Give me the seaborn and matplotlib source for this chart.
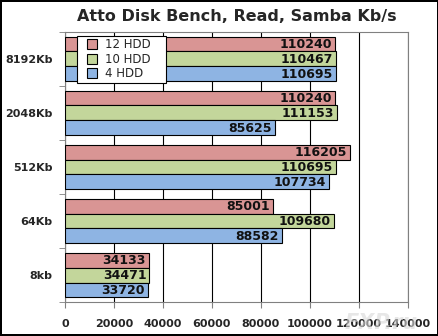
import seaborn as sns
import matplotlib.pyplot as plt
import pandas as pd
from matplotlib.ticker import FixedLocator
from matplotlib.lines import Line2D

# Atto Disk Bench, read over Samba (Kb/s)
blocks = ["8192Kb", "2048Kb", "512Kb", "64Kb", "8kb"]
series = ["12 HDD", "10 HDD", "4 HDD"]
hdd12 = [110240, 110240, 116205, 85001, 34133]
hdd10 = [110467, 111153, 110695, 109680, 34471]
hdd4 = [110695, 85625, 107734, 88582, 33720]
colors = ["#D99594", "#C3D69B", "#8EB4E3"]

rows = []
for name, vals in zip(series, [hdd12, hdd10, hdd4]):
    for b, v in zip(blocks, vals):
        rows.append({"block": b, "hdd": name, "speed": v})
df = pd.DataFrame(rows)

sns.set_style("white")
plt.rcParams["font.family"] = ["DejaVu Sans"]

fig = plt.figure(figsize=(4.39, 3.36), dpi=100)
fig.patch.set_edgecolor("black")
fig.patch.set_linewidth(1.5)
ax = fig.add_axes([0.148, 0.101, 0.781, 0.804])

sns.barplot(data=df, y="block", x="speed", hue="hdd", order=blocks,
            hue_order=series, palette=colors, orient="h", width=0.83,
            edgecolor="black", linewidth=0.8, saturation=1, ax=ax, zorder=3,
            legend=False)

# value labels inside the bar ends
for p in ax.patches:
    w = p.get_width()
    if w <= 0:
        continue
    ax.text(w - 1200, p.get_y() + p.get_height() / 2 + 0.01, f"{int(w)}",
            ha="right", va="center", fontsize=9, fontweight="bold",
            color="#111111", zorder=4)

ax.set_xlim(0, 140000)
ax.set_xticks(range(0, 140001, 20000))
ax.xaxis.grid(True, color="black", linewidth=0.8, zorder=0)
ax.yaxis.grid(False)
ax.set_xlabel("")
ax.set_ylabel("")
ax.set_title("Atto Disk Bench, Read, Samba Kb/s", fontsize=11.5,
             fontweight="bold", pad=8)

for s in ax.spines.values():
    s.set_visible(True)
    s.set_color("#808080")
    s.set_linewidth(0.8)

ax.yaxis.set_minor_locator(FixedLocator([i - 0.5 for i in range(len(blocks) + 1)]))
ax.tick_params(axis="y", which="major", length=0, pad=9, labelsize=8)
ax.tick_params(axis="y", which="minor", left=True, length=4, color="#808080")
ax.tick_params(axis="x", which="major", bottom=True, length=4, color="#808080",
               labelsize=8, pad=8)
for lbl in ax.get_xticklabels() + ax.get_yticklabels():
    lbl.set_fontweight("bold")

handles = [Line2D([], [], marker="s", linestyle="none", markersize=6.5,
                  markerfacecolor=c, markeredgecolor="black",
                  markeredgewidth=0.8) for c in colors]
leg = ax.legend(handles, series, loc="upper left",
                bbox_to_anchor=(0.035, 0.985, 0.26, 0.0), mode="expand",
                fontsize=8.5, frameon=True, fancybox=False, framealpha=1,
                handlelength=2.2, handletextpad=0.0, borderpad=0.2,
                labelspacing=0.12, borderaxespad=0)
leg.get_frame().set_edgecolor("black")
leg.get_frame().set_linewidth(0.8)
leg.set_zorder(5)

fig.text(0.785, 0.02, "FXP.ru", fontsize=15, fontweight="bold",
         fontstyle="italic", color="#d8d8d8", alpha=0.6, zorder=0)

plt.savefig("out.png", dpi=100)
